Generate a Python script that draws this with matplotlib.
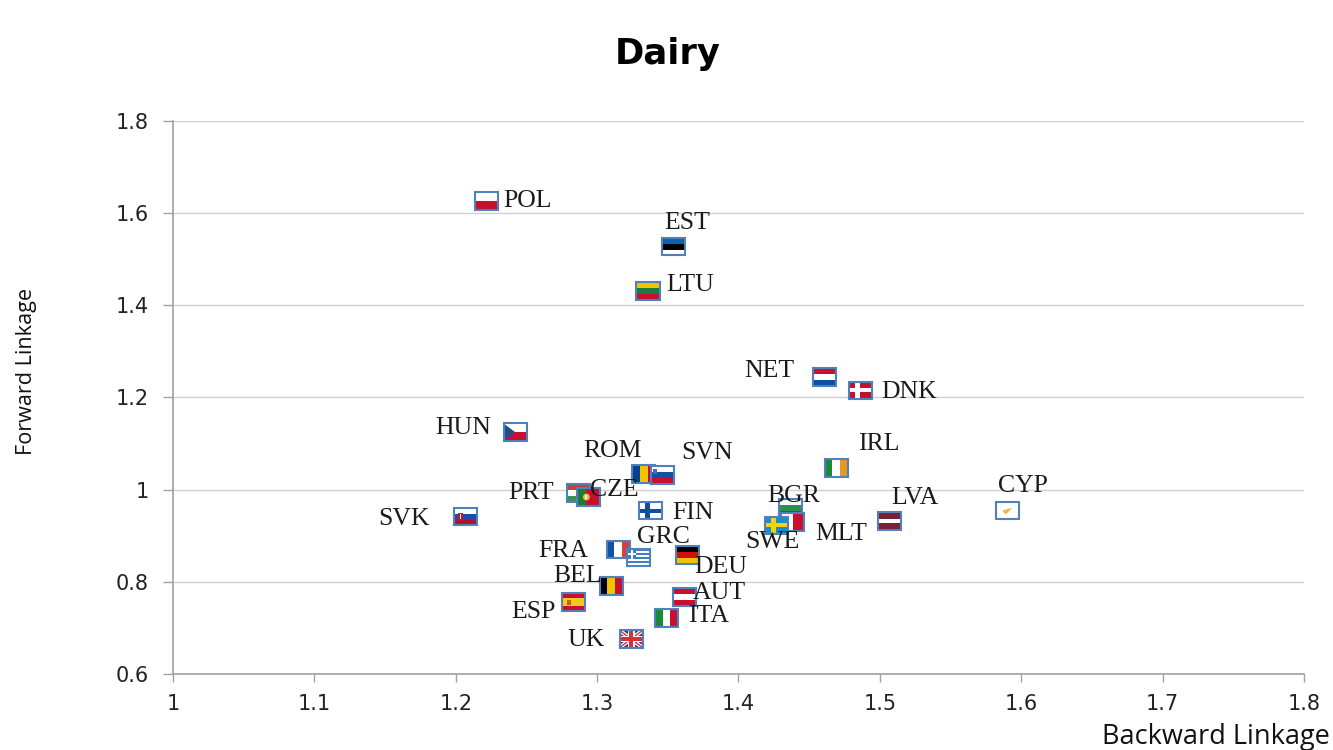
import numpy as np
import matplotlib
matplotlib.use('Agg')
import matplotlib.pyplot as plt
import matplotlib.patches as mpatches
from matplotlib.offsetbox import AnnotationBbox, DrawingArea

# flag actually shown, label next to it, data, drawn in this order
flags = ['POL', 'EST', 'LTU', 'NLD', 'DNK', 'CZE', 'ROM', 'SVN', 'IRL', 'HUN', 'PRT', 'FIN',
         'BGR', 'MLT', 'SWE', 'LVA', 'CYP', 'SVK', 'FRA', 'GRC', 'DEU', 'BEL', 'AUT', 'ESP', 'ITA', 'GBR']
labels = ['POL', 'EST', 'LTU', 'NET', 'DNK', 'HUN', 'ROM', 'SVN', 'IRL', 'PRT', 'CZE', 'FIN',
          'BGR', 'MLT', 'SWE', 'LVA', 'CYP', 'SVK', 'FRA', 'GRC', 'DEU', 'BEL', 'AUT', 'ESP', 'ITA', 'UK']
backward = [1.2215, 1.354, 1.336, 1.461, 1.4866, 1.242, 1.333, 1.346, 1.469, 1.2865, 1.294, 1.338,
            1.437, 1.4385, 1.427, 1.507, 1.590, 1.207, 1.315, 1.3296, 1.364, 1.310, 1.362, 1.2836, 1.349, 1.324]
forward = [1.6265, 1.527, 1.431, 1.2445, 1.216, 1.125, 1.034, 1.032, 1.047, 0.993, 0.984, 0.954,
           0.960, 0.930, 0.923, 0.932, 0.954, 0.941, 0.871, 0.852, 0.858, 0.791, 0.767, 0.756, 0.7215, 0.676]

x_ticks = [1, 1.1, 1.2, 1.3, 1.4, 1.5, 1.6, 1.7, 1.8]
y_ticks = [0.6, 0.8, 1, 1.2, 1.4, 1.6, 1.8]
x_ticklabels = ['1', '1.1', '1.2', '1.3', '1.4', '1.5', '1.6', '1.7', '1.8']
y_ticklabels = ['0.6', '0.8', '1', '1.2', '1.4', '1.6', '1.8']

# label offset from the flag centre, in pixels (right, up)
label_off = {'POL': (41, 0), 'EST': (14, 24), 'LTU': (42, 6), 'NET': (-55, 6), 'DNK': (48, -2),
             'HUN': (-52, 4), 'ROM': (-31, 23), 'SVN': (45, 22), 'IRL': (43, 24), 'PRT': (-47, 0),
             'CZE': (26, 7), 'FIN': (42, -2), 'BGR': (3, 12), 'MLT': (48, -12), 'SWE': (-4, -17),
             'LVA': (25, 23), 'CYP': (16, 25), 'SVK': (-62, -2), 'FRA': (-55, -2), 'GRC': (24, 21),
             'DEU': (33, -12), 'BEL': (-34, 10), 'AUT': (35, 4), 'ESP': (-40, -10), 'ITA': (42, 2),
             'UK': (-45, -1)}

RED = '#c8102e'
BLUE = '#0b4ea2'
GREEN = '#1a8a3a'
YELLOW = '#f4c300'
WHITE = '#ffffff'
BLACK = '#000000'
MAROON = '#7a1f35'

# plain stripes: (direction, colours, relative widths)
stripes = {
    'POL': ('h', [WHITE, RED], [1, 1]),
    'EST': ('h', ['#0a62ad', BLACK, WHITE], [1, 1, 1]),
    'LTU': ('h', [YELLOW, '#1e7a3c', RED], [1, 1, 1]),
    'NLD': ('h', [RED, WHITE, BLUE], [1, 1, 1]),
    'DNK': ('h', [RED], [1]),
    'CZE': ('h', [WHITE, RED], [1, 1]),
    'ROM': ('v', ['#0b3f8f', YELLOW, RED], [1, 1, 1]),
    'SVN': ('h', [WHITE, '#1450a3', RED], [1, 1, 1]),
    'IRL': ('v', [GREEN, WHITE, '#e8961e'], [1, 1, 1]),
    'HUN': ('h', ['#cd3b3b', WHITE, '#3f8f4f'], [1, 1, 1]),
    'PRT': ('v', ['#1f7a33', RED], [2, 3]),
    'FIN': ('h', [WHITE], [1]),
    'BGR': ('h', [WHITE, '#2e9050', RED], [1, 1, 1]),
    'MLT': ('v', [WHITE, RED], [1, 1]),
    'SWE': ('h', ['#1a8ccf'], [1]),
    'LVA': ('h', [MAROON, WHITE, MAROON], [2, 1, 2]),
    'CYP': ('h', [WHITE], [1]),
    'SVK': ('h', [WHITE, '#1450a3', '#b01030'], [1, 1, 1]),
    'FRA': ('v', ['#1450a3', WHITE, '#d8403a'], [1, 1, 1]),
    'GRC': ('h', ['#3f7fc4', WHITE] * 4 + ['#3f7fc4'], [1] * 9),
    'DEU': ('h', [BLACK, '#d01010', YELLOW], [1, 1, 1]),
    'BEL': ('v', [BLACK, YELLOW, RED], [1, 1, 1]),
    'AUT': ('h', [RED, WHITE, RED], [1, 1, 1]),
    'ESP': ('h', [RED, '#f6c81e', RED], [1, 2, 1]),
    'ITA': ('v', [GREEN, WHITE, RED], [1, 1, 1]),
    'GBR': ('h', ['#2b3f87'], [1]),
}

W = 16.6   # flag size in points
H = 12.4
BORDER = '#4f81bd'
AXIS_GREY = '#a0a0a0'


def box(da, x, y, w, h, c):
    da.add_artist(mpatches.Rectangle((x * W, y * H), w * W, h * H, fc=c, ec='none', lw=0))


def poly(da, pts, c):
    da.add_artist(mpatches.Polygon([(a * W, b * H) for a, b in pts], closed=True, fc=c, ec='none', lw=0))


def cross(da, c, cx=0.36, t=0.2):
    box(da, cx - t / 2, 0, t, 1, c)
    box(da, 0, 0.5 - t * 0.65, 1, t * 1.3, c)


def make_flag(name):
    da = DrawingArea(W, H, 0, 0, clip=False)
    kind, cols, sizes = stripes[name]
    tot = float(sum(sizes))
    pos = 0.0
    for c, s in zip(cols, sizes):
        if kind == 'h':
            box(da, 0, 1 - (pos + s) / tot, 1, s / tot, c)
        else:
            box(da, pos / tot, 0, s / tot, 1, c)
        pos += s

    # the details the stripes can't do
    if name == 'CZE':
        poly(da, [(0, 0), (0.5, 0.5), (0, 1)], '#1d4f8f')
    elif name == 'DNK':
        cross(da, WHITE)
    elif name == 'FIN':
        cross(da, '#0d4f9e')
    elif name == 'SWE':
        cross(da, '#f8d210')
    elif name == 'GRC':
        box(da, 0, 0.44, 0.38, 0.56, '#3f7fc4')
        box(da, 0.15, 0.44, 0.08, 0.56, WHITE)
        box(da, 0, 0.68, 0.38, 0.1, WHITE)
    elif name == 'CYP':
        poly(da, [(0.3, 0.52), (0.55, 0.62), (0.72, 0.68), (0.55, 0.42), (0.42, 0.3)], '#e8b84a')
    elif name == 'PRT':
        da.add_artist(mpatches.Circle((0.4 * W, 0.5 * H), 0.2 * H, fc='#e0c040', ec='none'))
        box(da, 0.36, 0.38, 0.08, 0.24, '#e8e8e8')
    elif name == 'SVK':
        box(da, 0.18, 0.28, 0.22, 0.45, '#c8102e')
        box(da, 0.26, 0.38, 0.06, 0.28, WHITE)
    elif name == 'SVN':
        box(da, 0.12, 0.58, 0.16, 0.25, '#3f6fb5')
    elif name == 'ESP':
        box(da, 0.22, 0.36, 0.16, 0.28, '#b5651d')
    elif name == 'GBR':
        poly(da, [(0, 0.86), (0, 1), (0.14, 1), (1, 0.14), (1, 0), (0.86, 0)], WHITE)
        poly(da, [(0, 0.14), (0, 0), (0.14, 0), (1, 0.86), (1, 1), (0.86, 1)], WHITE)
        poly(da, [(0, 0.95), (0, 1), (0.05, 1), (1, 0.05), (1, 0), (0.95, 0)], '#d8303a')
        poly(da, [(0, 0.05), (0, 0), (0.05, 0), (1, 0.95), (1, 1), (0.95, 1)], '#d8303a')
        cross(da, WHITE, cx=0.5, t=0.3)
        cross(da, '#d8303a', cx=0.5, t=0.16)

    da.add_artist(mpatches.Rectangle((0, 0), W, H, fc='none', ec=BORDER, lw=1.5))
    return da


fig = plt.figure(figsize=(13.33, 7.5), dpi=100)
ax = fig.add_axes([173 / 1333, 1 - 674 / 750, (1304 - 173) / 1333, (674 - 121) / 750])

ax.set_xlim(1, 1.8)
ax.set_ylim(0.6, 1.8)
ax.set_xticks(x_ticks)
ax.set_xticklabels(x_ticklabels)
ax.set_yticks(y_ticks)
ax.set_yticklabels(y_ticklabels)
ax.tick_params(axis='both', labelsize=15, width=1, color=AXIS_GREY, labelcolor='#222222')
ax.tick_params(axis='x', length=5.8, pad=8.5)
ax.tick_params(axis='y', length=7.2, pad=10)
ax.grid(axis='y', color='#d0d0d0', lw=1)
ax.set_axisbelow(True)
for s in ['top', 'right']:
    ax.spines[s].set_visible(False)
for s in ['left', 'bottom']:
    ax.spines[s].set_color(AXIS_GREY)
    ax.spines[s].set_linewidth(1.2)

for i in range(len(flags)):
    ab = AnnotationBbox(make_flag(flags[i]), (backward[i], forward[i]), frameon=False, pad=0,
                        box_alignment=(0.5, 0.5), zorder=3 + i * 0.01)
    ax.add_artist(ab)

for i in range(len(labels)):
    dx, dy = label_off[labels[i]]
    ax.annotate(labels[i], (backward[i], forward[i]), xytext=(dx * 0.72, dy * 0.72),
                textcoords='offset points', ha='center', va='center', zorder=5,
                family='Liberation Serif', fontsize=18.5, color='#1a1a1a')

fig.text(667.5 / 1333, 1 - 54 / 750, 'Dairy', ha='center', va='center', fontsize=25.5,
         fontweight='bold', color='black')
fig.text(1216 / 1333, 1 - 737 / 750, 'Backward Linkage', ha='center', va='center', fontsize=19.5,
         family='Open Sans', color='#111111')
fig.text(27 / 1333, 1 - 371 / 750, 'Forward Linkage', ha='center', va='center', rotation=90,
         fontsize=15.6, family='Open Sans', color='#111111')

plt.savefig('out.png', dpi=100)
plt.close()
